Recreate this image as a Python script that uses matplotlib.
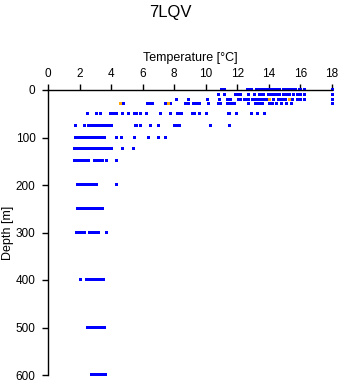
import matplotlib
matplotlib.use('Agg')
import matplotlib.pyplot as plt
from matplotlib.path import Path

# Standard sampling depths [m]
depths = [0, 10, 20, 30, 50, 75, 100, 125, 150, 200, 250, 300, 400, 500, 600]

# Temperature readings [degC] at each depth
t_0m = [10.95, 11.15, 12.6, 12.7, 12.85, 13.2, 13.3, 13.4, 13.5, 13.6, 13.8,
        14.0, 14.1, 14.2, 14.3, 14.4, 14.5, 14.65, 14.9, 15.0, 15.1, 15.2,
        15.3, 15.4, 15.5, 15.65, 15.9, 16.0, 16.2, 18.0]
t_10m = [10.8, 11.15, 11.85, 11.95, 12.05, 12.2, 12.7, 13.05, 13.4, 13.5,
         13.65, 13.95, 14.1, 14.2, 14.3, 14.4, 14.5, 14.65, 14.9, 15.0, 15.1,
         15.2, 15.3, 15.5, 15.8, 15.9, 16.0, 16.2, 18.0]
t_20m = [8.1, 8.9, 10.05, 10.85, 11.35, 11.55, 12.05, 12.2, 12.4, 12.5, 12.6,
         12.7, 12.9, 13.1, 13.2, 13.3, 13.4, 13.5, 13.6, 13.7, 13.8, 14.25,
         14.55, 14.7, 14.8, 15.0, 15.45, 15.75, 15.9, 16.0, 16.2, 18.0]
t_30m = [4.75, 6.3, 6.45, 6.6, 7.4, 7.5, 7.75, 8.7, 8.85, 9.2, 9.3, 9.5, 9.6,
         10.12, 10.8, 10.9, 11.35, 11.5, 11.65, 11.8, 12.7, 13.1, 13.2, 13.35,
         13.55, 14.0, 14.2, 14.45, 14.75, 15.1, 15.4, 18.0]
t_50m = [2.5, 3.05, 3.3, 3.9, 4.0, 4.1, 4.2, 4.3, 4.68, 5.08, 5.45, 5.6, 5.8,
         6.18, 7.08, 7.72, 8.2, 8.3, 8.42, 9.15, 9.28, 9.55, 10.02, 11.38,
         11.45, 11.9, 12.88, 13.25, 13.66]
t_75m = [1.73, 2.28, 2.55, 2.65, 2.75, 2.85, 2.95, 3.05, 3.15, 3.25, 3.35,
         3.45, 3.55, 3.65, 3.8, 4.02, 5.5, 5.58, 5.83, 6.47, 6.97, 7.98, 8.1,
         8.2, 8.3, 10.27, 11.5]
t_100m = [1.7, 1.8, 1.9, 2.0, 2.1, 2.2, 2.3, 2.4, 2.5, 2.6, 2.7, 2.8, 2.9,
          3.0, 3.1, 3.2, 3.33, 3.57, 4.3, 4.6, 5.42, 6.35, 7.0, 7.4]
t_125m = [1.62, 1.72, 1.82, 1.92, 2.02, 2.12, 2.22, 2.32, 2.42, 2.52, 2.62,
          2.72, 2.82, 2.92, 3.02, 3.12, 3.22, 3.32, 3.42, 3.52, 3.62, 3.72,
          3.82, 3.97, 4.66, 5.37]
t_150m = [1.65, 1.75, 1.85, 1.95, 2.05, 2.15, 2.25, 2.35, 2.45, 2.56, 2.9,
          3.0, 3.1, 3.2, 3.3, 3.45, 3.7, 4.32]
t_200m = [1.82, 1.92, 2.02, 2.12, 2.22, 2.32, 2.42, 2.52, 2.62, 2.72, 2.82,
          2.92, 3.03, 4.32]
t_250m = [1.82, 1.92, 2.02, 2.12, 2.22, 2.32, 2.42, 2.52, 2.62, 2.72, 2.82,
          2.92, 3.02, 3.12, 3.22, 3.32, 3.42]
t_300m = [1.75, 1.85, 1.95, 2.05, 2.15, 2.28, 2.6, 2.7, 2.8, 2.9, 3.0, 3.17,
          3.7]
t_400m = [2.0, 2.38, 2.48, 2.58, 2.68, 2.78, 2.88, 2.98, 3.08, 3.18, 3.28,
          3.38, 3.46]
t_500m = [2.46, 2.56, 2.66, 2.76, 2.86, 2.96, 3.06, 3.16, 3.26, 3.36, 3.46,
          3.58]
t_600m = [2.7, 2.8, 2.9, 3.0, 3.1, 3.2, 3.3, 3.42, 3.63]

profiles = [t_0m, t_10m, t_20m, t_30m, t_50m, t_75m, t_100m, t_125m, t_150m,
            t_200m, t_250m, t_300m, t_400m, t_500m, t_600m]

# Flagged readings, shown in orange
flag_temp = [14.0, 15.25, 4.55, 7.62]
flag_depth = [20, 20, 30, 30]

plt.rcParams['font.family'] = ['Liberation Sans', 'DejaVu Sans']

fig = plt.figure(figsize=(3.41, 3.84), dpi=100)
ax = fig.add_axes([48 / 341, 9 / 384, 284 / 341, 285 / 384])

# 3x3 pixel square: off-centre path so the corners land on whole pixels
dot = Path([(-1, -1), (2, -1), (2, 2), (-1, 2), (-1, -1)],
           [Path.MOVETO, Path.LINETO, Path.LINETO, Path.LINETO,
            Path.CLOSEPOLY])
marker_kw = dict(ls='none', marker=dot, ms=4 * 72 / 100, mew=0,
                 clip_on=False, antialiased=False)
for d, temps in zip(depths, profiles):
    ax.plot(temps, [d] * len(temps), color='#0000ff', **marker_kw)
ax.plot(flag_temp, flag_depth, color='#ffa500', **marker_kw)

ax.set_xlim(0, 18)
ax.set_ylim(600, 0)
ax.set_xticks(range(0, 19, 2))
ax.set_yticks(range(0, 601, 100))

ax.xaxis.set_ticks_position('top')
ax.xaxis.set_label_position('top')
ax.spines['right'].set_visible(False)
ax.spines['bottom'].set_visible(False)
for s in ('top', 'left'):
    ax.spines[s].set_linewidth(1)
ax.tick_params(axis='both', direction='out', length=4, width=1,
               labelsize=8.5, pad=3)
ax.tick_params(axis='y', pad=5)

ax.set_xlabel('Temperature [°C]', fontsize=9, labelpad=5)
ax.set_ylabel('Depth [m]', fontsize=9, va='center')
ax.yaxis.set_label_coords(-40 / 284, 0.5)
fig.text(0.5, 1 - 12 / 384, '7LQV', ha='center', va='center', fontsize=12)

fig.savefig('out.png', dpi=100, facecolor='white')
